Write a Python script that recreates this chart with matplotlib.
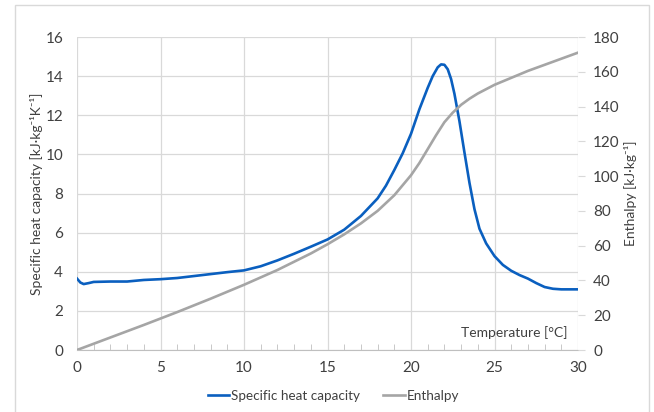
import numpy as np
import matplotlib.pyplot as plt
from matplotlib.patches import Rectangle
from matplotlib.ticker import MultipleLocator

plt.rcParams['font.family'] = ['Lato', 'DejaVu Sans']

# specific heat capacity [kJ/kg/K] vs temperature [C]
cp_t = [0, 0.2, 0.4, 0.7, 1, 2, 3, 4, 5, 6, 7, 8, 9, 10, 11, 12, 13, 14, 15,
        16, 17, 18, 18.5, 19, 19.5, 20, 20.5, 21, 21.3, 21.6, 21.8, 22.0, 22.2,
        22.4, 22.6, 22.9, 23.2, 23.5, 23.8, 24.1, 24.5, 25, 25.5, 26, 26.5, 27,
        27.5, 28, 28.5, 29, 30]
cp = [3.65, 3.45, 3.37, 3.42, 3.48, 3.50, 3.50, 3.58, 3.62, 3.68, 3.78, 3.88,
      3.98, 4.07, 4.28, 4.58, 4.92, 5.28, 5.65, 6.15, 6.85, 7.75, 8.40, 9.20,
      10.05, 11.05, 12.30, 13.40, 14.00, 14.45, 14.60, 14.58, 14.35, 13.85,
      13.10, 11.70, 10.10, 8.55, 7.20, 6.20, 5.45, 4.80, 4.35, 4.05, 3.83, 3.65,
      3.42, 3.22, 3.13, 3.10, 3.10]

# enthalpy [kJ/kg]
h_t = [0, 2, 4, 6, 8, 10, 12, 14, 15, 16, 17, 18, 19, 20, 20.5, 21, 21.5, 22,
       22.5, 23, 23.5, 24, 24.5, 25, 26, 27, 28, 29, 30]
h = [0, 7.2, 14.4, 21.8, 29.5, 37.5, 46.0, 55.5, 60.8, 66.5, 72.8, 80.0, 89.0,
     100.5, 107.5, 115.5, 123.5, 131.0, 136.5, 141.0, 144.5, 147.5, 150.0,
     152.5, 156.5, 160.5, 164.0, 167.5, 171.0]

grid_c = '#d9d9d9'
text_c = '#404040'

fig = plt.figure(figsize=(6.54, 4.12), dpi=100)
ax = fig.add_axes([77 / 654, 62 / 412, 501 / 654, 313 / 412])
ax2 = ax.twinx()

ax.plot(cp_t, cp, color='#0a5fbf', lw=1.9, label='Specific heat capacity')
ax2.plot(h_t, h, color='#a5a5a5', lw=1.9, label='Enthalpy')

ax.set_xlim(0, 30)
ax.set_ylim(0, 16)
ax2.set_ylim(0, 180)
ax.xaxis.set_major_locator(MultipleLocator(5))
ax.xaxis.set_minor_locator(MultipleLocator(1))
ax.yaxis.set_major_locator(MultipleLocator(2))
ax2.yaxis.set_major_locator(MultipleLocator(20))

ax.grid(True, which='major', color=grid_c, lw=0.9)
ax.set_axisbelow(True)
for a in (ax, ax2):
    for s in a.spines.values():
        s.set_visible(False)
ax.spines['bottom'].set_visible(True)
ax.spines['bottom'].set_color('#bfbfbf')

ax.tick_params(axis='x', which='major', length=0, pad=8, labelsize=11,
               labelcolor=text_c)
ax.tick_params(axis='x', which='minor', length=4, direction='in',
               color='#bfbfbf', bottom=True)
ax.tick_params(axis='y', length=0, pad=10, labelsize=11, labelcolor=text_c)
ax2.tick_params(axis='y', length=5, color='#d9d9d9', pad=6, labelsize=11,
                labelcolor=text_c)

ax.set_ylabel('Specific heat capacity [kJ·kg⁻¹K⁻¹]', fontsize=10,
              color=text_c, labelpad=2)
ax2.set_ylabel('Enthalpy [kJ·kg⁻¹]', fontsize=10, color=text_c,
               labelpad=3)
ax.text(0.98, 0.035, 'Temperature [°C]', transform=ax.transAxes, ha='right',
        va='bottom', fontsize=10, color=text_c)

h1, l1 = ax.get_legend_handles_labels()
h2, l2 = ax2.get_legend_handles_labels()
fig.legend(h1 + h2, l1 + l2, loc='center', bbox_to_anchor=(0.51, 16 / 412),
           ncol=2, frameon=False, fontsize=9.7, handlelength=1.6,
           handletextpad=0.15, columnspacing=1.7, labelcolor=text_c)

fig.patches.append(Rectangle((15 / 654, -0.02), 634 / 654, 1.02 - 5 / 412,
                             transform=fig.transFigure, fill=False,
                             edgecolor='#d9d9d9', lw=1.0))

fig.savefig('out.png', dpi=100)
